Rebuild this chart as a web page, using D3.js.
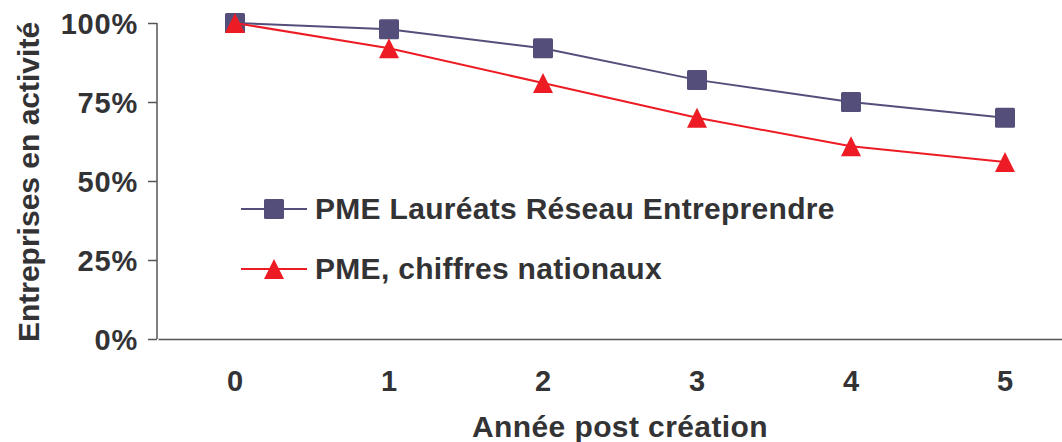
<!DOCTYPE html>
<meta charset="utf-8">
<style>
    body { margin: 0; background: #fff; }
    text { font-family: "Liberation Sans", Arial, sans-serif; font-weight: bold; fill: #333335; }
    .axis path, .axis line { stroke: #555; stroke-width: 1.5; }
    .line { fill: none; stroke-width: 2; }
</style>
<body></body>
<script src="https://d3js.org/d3.v7.min.js"></script>
<script>
// data
var years = ["0", "1", "2", "3", "4", "5"];
var laureats = [1.00, 0.98, 0.92, 0.82, 0.75, 0.70];
var nationaux = [1.00, 0.92, 0.81, 0.70, 0.61, 0.56];
var yTicks = [0, 0.25, 0.5, 0.75, 1];
var seriesNames = ["PME Lauréats Réseau Entreprendre", "PME, chiffres nationaux"];

var width = 1062, height = 442;
var blue = "#544e7a", red = "#ed1c24";

var svg = d3.select("body").append("svg")
    .attr("width", width)
    .attr("height", height);

// x scale: one band per year, bands are 154px wide
var x = d3.scaleBand()
    .domain(years)
    .range([158, 1082])
    .padding(0);

var y = d3.scaleLinear()
    .domain([0, 1])
    .range([339, 23]);

function cx(d, i) { return x(years[i]) + x.bandwidth() / 2; }

// x axis, no tick marks
var xAxis = svg.append("g")
    .attr("class", "axis")
    .attr("transform", "translate(0,339)")
    .call(d3.axisBottom(x).tickSize(0).tickPadding(31));
xAxis.selectAll("text").attr("font-size", 29).attr("fill", "#333335");

// y axis
var yAxis = svg.append("g")
    .attr("class", "axis")
    .attr("transform", "translate(157,0)")
    .call(d3.axisLeft(y).tickValues(yTicks).tickFormat(d3.format(".0%"))
        .tickSizeInner(9).tickSizeOuter(0).tickPadding(10));
yAxis.selectAll("text").attr("font-size", 29).attr("letter-spacing", 0.8)
    .attr("fill", "#333335").attr("dy", "0.36em");
yAxis.select(".domain").attr("d", "M0," + y(1) + "V" + y(0));

// axis titles
svg.append("text")
    .attr("x", 620)
    .attr("y", 437)
    .attr("text-anchor", "middle")
    .attr("font-size", 30)
    .attr("letter-spacing", 0.4)
    .text("Année post création");

svg.append("text")
    .attr("transform", "translate(39,182) rotate(-90)")
    .attr("text-anchor", "middle")
    .attr("font-size", 30)
    .text("Entreprises en activité");

var line = d3.line()
    .x(cx)
    .y(function (d) { return y(d); });

var tri = "M0,-10L10,10L-10,10Z";

// series 1, squares
svg.append("path")
    .datum(laureats)
    .attr("class", "line")
    .attr("stroke", blue)
    .attr("d", line);

svg.selectAll(".sq")
    .data(laureats)
    .enter().append("rect")
    .attr("class", "sq")
    .attr("x", function (d, i) { return cx(d, i) - 10; })
    .attr("y", function (d) { return y(d) - 10; })
    .attr("width", 20)
    .attr("height", 20)
    .attr("rx", 1.5)
    .attr("fill", blue);

// series 2, triangles
svg.append("path")
    .datum(nationaux)
    .attr("class", "line")
    .attr("stroke", red)
    .attr("d", line);

svg.selectAll(".tri")
    .data(nationaux)
    .enter().append("path")
    .attr("class", "tri")
    .attr("transform", function (d, i) { return "translate(" + cx(d, i) + "," + y(d) + ")"; })
    .attr("d", tri)
    .attr("fill", red);

// legend
var legend = svg.append("g");
var legendY = [209, 269];
var colors = [blue, red];

seriesNames.forEach(function (name, i) {
    var g = legend.append("g").attr("transform", "translate(0," + legendY[i] + ")");
    g.append("line")
        .attr("x1", 241).attr("x2", 307)
        .attr("stroke", colors[i]).attr("stroke-width", 2);
    if (i === 0) {
        g.append("rect")
            .attr("x", 264).attr("y", -10)
            .attr("width", 20).attr("height", 20)
            .attr("rx", 1.5)
            .attr("fill", blue);
    } else {
        g.append("path")
            .attr("transform", "translate(274,0)")
            .attr("d", tri)
            .attr("fill", red);
    }
    g.append("text")
        .attr("x", 315)
        .attr("y", 10)
        .attr("font-size", 30)
        .attr("letter-spacing", 0.3)
        .text(name);
});
</script>
